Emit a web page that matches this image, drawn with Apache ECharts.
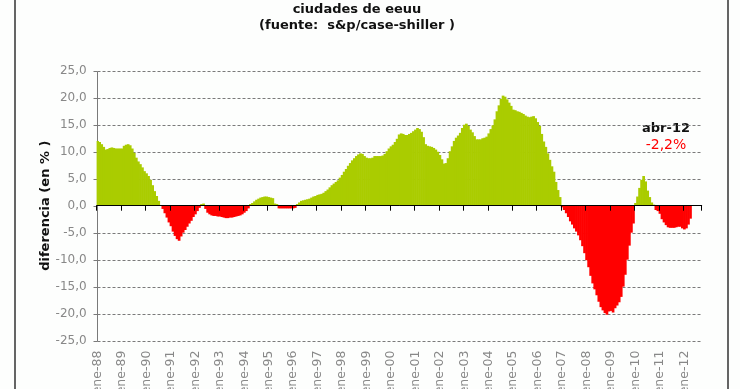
<!DOCTYPE html>
<html>
<head>
<meta charset="utf-8">
<script src="https://cdn.jsdelivr.net/npm/echarts@6/dist/echarts.min.js"></script>
<style>html,body{margin:0;padding:0;background:#fdfefd;overflow:hidden}#c{width:740px;height:402px}</style>
</head>
<body>
<div id="c"></div>
<script>
// ---- data (monthly, ene-88 .. abr-12) ----
const monthNames = ['ene','feb','mar','abr','may','jun','jul','ago','sep','oct','nov','dic'];
const yearLabels = ['88','89','90','91','92','93','94','95','96','97','98','99','00','01','02','03','04','05','06','07','08','09','10','11','12'];
const yTicks = [-25, -20, -15, -10, -5, 0, 5, 10, 15, 20, 25];
const v1988 = [12.0, 11.8, 11.4, 10.9, 10.4, 10.5, 10.7, 10.8, 10.7, 10.6, 10.6, 10.6];
const v1989 = [10.6, 11.1, 11.3, 11.4, 11.2, 10.6, 9.8, 8.9, 8.2, 7.7, 7.1, 6.4];
const v1990 = [6.0, 5.5, 4.8, 3.8, 2.7, 1.8, 0.9, 0.1, -0.6, -1.4, -2.2, -3.1];
const v1991 = [-3.8, -4.8, -5.6, -6.2, -6.5, -5.7, -5.0, -4.5, -3.9, -3.3, -2.8, -2.1];
const v1992 = [-1.6, -1.0, -0.4, 0.3, 0.4, -0.6, -1.3, -1.6, -1.8, -1.9, -1.9, -2.0];
const v1993 = [-2.0, -2.1, -2.2, -2.3, -2.3, -2.2, -2.2, -2.1, -2.0, -1.9, -1.8, -1.6];
const v1994 = [-1.3, -1.0, -0.5, 0.3, 0.5, 0.8, 1.1, 1.3, 1.5, 1.6, 1.7, 1.7];
const v1995 = [1.6, 1.5, 1.4, 0.4, 0.3, -0.5, -0.5, -0.5, -0.5, -0.5, -0.5, -0.5];
const v1996 = [-0.5, -0.4, 0.3, 0.6, 0.9, 1.0, 1.1, 1.2, 1.3, 1.5, 1.7, 1.8];
const v1997 = [2.0, 2.1, 2.2, 2.4, 2.7, 3.0, 3.4, 3.8, 4.1, 4.4, 4.7, 5.2];
const v1998 = [5.7, 6.3, 6.8, 7.4, 7.9, 8.4, 8.8, 9.2, 9.5, 9.7, 9.6, 9.2];
const v1999 = [8.9, 8.8, 8.8, 8.9, 9.2, 9.2, 9.2, 9.2, 9.3, 9.6, 10.1, 10.6];
const v2000 = [11.0, 11.3, 11.8, 12.4, 13.2, 13.4, 13.3, 13.1, 13.1, 13.3, 13.5, 13.8];
const v2001 = [14.1, 14.4, 14.2, 13.7, 12.7, 11.4, 11.1, 11.0, 10.9, 10.7, 10.4, 10.0];
const v2002 = [9.4, 8.6, 7.8, 7.9, 8.8, 10.1, 11.0, 12.0, 12.6, 13.0, 13.5, 14.4];
const v2003 = [15.0, 15.2, 14.8, 14.1, 13.6, 12.9, 12.3, 12.3, 12.3, 12.5, 12.6, 12.8];
const v2004 = [13.4, 14.2, 14.9, 16.0, 17.5, 18.6, 19.8, 20.4, 20.2, 19.7, 19.1, 18.5];
const v2005 = [17.8, 17.7, 17.5, 17.4, 17.2, 17.0, 16.7, 16.5, 16.4, 16.5, 16.6, 16.2];
const v2006 = [15.5, 14.8, 13.3, 11.9, 10.9, 9.7, 8.5, 7.3, 6.3, 4.4, 2.9, 1.6];
const v2007 = [-0.3, -0.8, -1.4, -2.1, -2.9, -3.5, -4.2, -4.8, -5.5, -6.4, -7.5, -8.8];
const v2008 = [-10.1, -11.4, -13.0, -14.4, -15.5, -16.6, -17.8, -18.8, -19.4, -19.9, -20.2, -19.6];
const v2009 = [-19.5, -19.8, -19.0, -18.5, -17.9, -16.9, -15.0, -12.8, -10.0, -7.4, -5.0, -3.3];
const v2010 = [0.5, 1.7, 3.3, 4.8, 5.5, 4.5, 2.8, 1.6, 0.6, 0.2, -0.8, -1.0];
const v2011 = [-1.5, -2.5, -3.1, -3.6, -4.0, -4.1, -4.1, -4.1, -4.0, -3.9, -3.9, -4.2];
const v2012 = [-4.4, -4.2, -3.5, -2.4];
const extraMonths2012 = 5; // empty axis slots after abr-12
const titleLines = ['ciudades de eeuu', '(fuente:  s&p/case-shiller )'];
const yAxisName = 'diferencia (en % )';
const noteLabel = 'abr-12';
const noteValue = '-2,2%';

const values = [].concat(v1988, v1989, v1990, v1991, v1992, v1993, v1994, v1995, v1996, v1997,
  v1998, v1999, v2000, v2001, v2002, v2003, v2004, v2005, v2006, v2007, v2008, v2009, v2010, v2011, v2012);
const categories = [];
yearLabels.forEach(function (y, yi) {
  monthNames.forEach(function (m, mi) {
    if (yi < yearLabels.length - 1 || mi < v2012.length + extraMonths2012) categories.push(m + '-' + y);
  });
});

const GREEN = '#aacc00';
const RED = '#ff0000';
const GRID_GRAY = '#7a7a7a';
const LABEL_FONT = 'DejaVu Sans';

const barData = values.map(function (v) {
  return { value: v, itemStyle: { color: v >= 0 ? GREEN : RED } };
});

const chart = echarts.init(document.getElementById('c'), null, { renderer: 'canvas' });
const staticGraphics = [
  { id: 'frame', type: 'rect', shape: { x: 15, y: -10, width: 713, height: 430 }, style: { fill: 'none', stroke: '#333', lineWidth: 1.5 }, silent: true },
  { id: 't1', type: 'text', x: 357, y: 10, style: { text: titleLines[0], fill: '#111', font: 'bold 13px "DejaVu Sans"', textAlign: 'center', textVerticalAlign: 'middle' } },
  { id: 't2', type: 'text', x: 357, y: 26, style: { text: titleLines[1], fill: '#111', font: 'bold 13px "DejaVu Sans"', textAlign: 'center', textVerticalAlign: 'middle' } },
  { id: 'n1', type: 'text', x: 666, y: 129, style: { text: noteLabel, fill: '#111', font: 'bold 13px "DejaVu Sans"', textAlign: 'center', textVerticalAlign: 'middle' } },
  { id: 'n2', type: 'text', x: 666, y: 145, style: { text: noteValue, fill: '#ff0000', font: '14px "DejaVu Sans"', textAlign: 'center', textVerticalAlign: 'middle' } }
];
chart.setOption({
  animation: false,
  backgroundColor: '#fdfefd',
  grid: { left: 96.6, right: 38.3, top: 70.8, bottom: 61.4, containLabel: false },
  xAxis: [
    {
      type: 'category', data: categories, boundaryGap: true, z: 5,
      axisLine: { show: true, onZero: true, lineStyle: { color: '#000', width: 1 } },
      axisTick: { show: true, interval: 11, length: 5, lineStyle: { color: '#000' } },
      axisLabel: { show: false }, splitLine: { show: false }
    },
    {
      type: 'category', data: categories, boundaryGap: true, position: 'bottom', offset: 0,
      axisLine: { show: false, onZero: false }, axisTick: { show: false }, splitLine: { show: false },
      axisLabel: { show: true, interval: 11, rotate: 90, margin: 10, color: '#888', fontSize: 12.5, fontFamily: LABEL_FONT }
    }
  ],
  yAxis: {
    type: 'value', min: -25, max: 25, interval: 5,
    axisLine: { show: false }, axisTick: { show: false }, splitLine: { show: false },
    axisLabel: {
      show: true, color: '#888', fontSize: 12, fontFamily: LABEL_FONT, margin: 10,
      formatter: function (v) { return v.toFixed(1).replace('.', ','); }
    },
    name: yAxisName, nameLocation: 'middle', nameRotate: 90, nameGap: 44, nameMoveOverlap: false,
    nameTextStyle: { fontWeight: 'bold', fontSize: 13, color: '#111', fontFamily: LABEL_FONT }
  },
  series: [{
    type: 'bar', xAxisIndex: 0, data: barData,
    barWidth: 2.7, barGap: '-100%', z: 2
  }],
  graphic: staticGraphics
});

// grid lines, y-axis line and y ticks positioned through the chart's own scales
const gridRect = chart.getModel().getComponent('grid').coordinateSystem.getRect();
const axisGraphics = [];
const xL = Math.round(gridRect.x) + 0.5;
const xR = gridRect.x + gridRect.width;
yTicks.forEach(function (v, i) {
  const py = Math.round(chart.convertToPixel({ yAxisIndex: 0 }, v)) + 0.5;
  if (v !== 0) {
    axisGraphics.push({ id: 'g' + i, type: 'line', z: 1, silent: true,
      shape: { x1: xL, y1: py, x2: xR, y2: py },
      style: { stroke: GRID_GRAY, lineWidth: 1, lineDash: [3, 2] } });
  }
  axisGraphics.push({ id: 'k' + i, type: 'line', z: 1, silent: true,
    shape: { x1: xL - 4, y1: py, x2: xL, y2: py },
    style: { stroke: GRID_GRAY, lineWidth: 1 } });
});
axisGraphics.push({ id: 'yaxis', type: 'line', z: 1, silent: true,
  shape: { x1: xL, y1: Math.round(gridRect.y) + 0.5, x2: xL, y2: Math.round(gridRect.y + gridRect.height) + 0.5 },
  style: { stroke: GRID_GRAY, lineWidth: 1 } });
chart.setOption({ graphic: staticGraphics.concat(axisGraphics) });
</script>
</body>
</html>
